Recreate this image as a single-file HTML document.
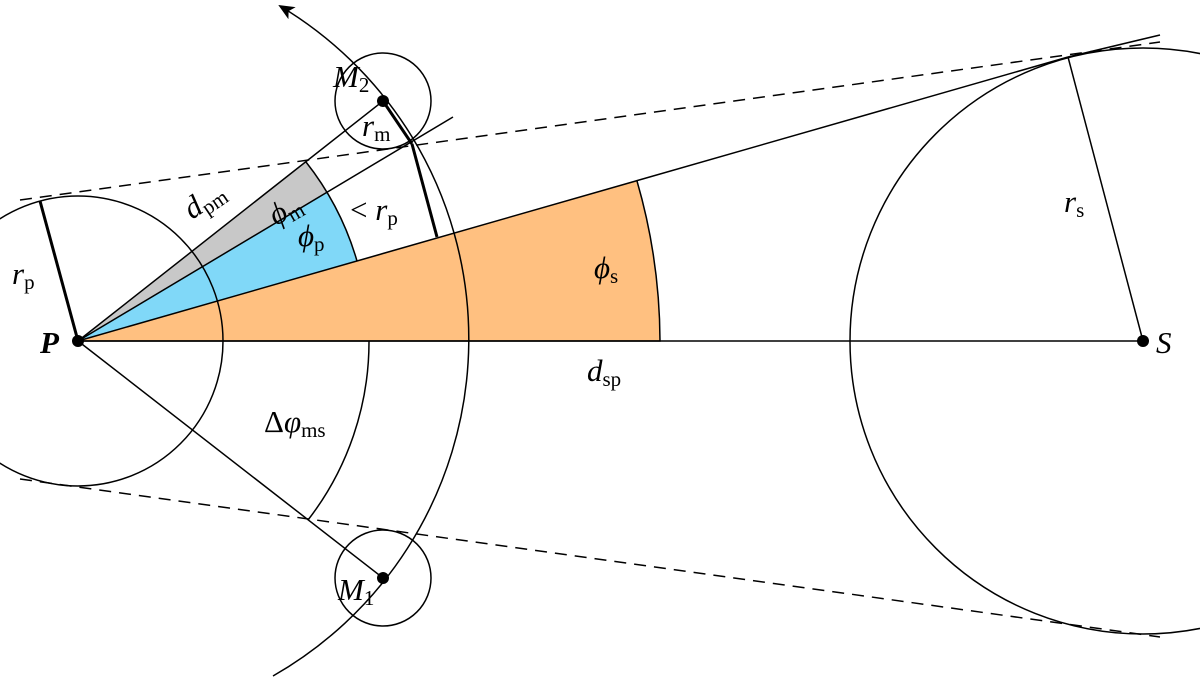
<!DOCTYPE html>
<html><head><meta charset="utf-8"><style>
html,body{margin:0;padding:0;background:#fff;}
svg text{font-family:"Liberation Serif",serif;fill:#000;}
.it{font-style:italic;}
</style></head><body>
<svg width="1200" height="682" viewBox="0 0 1200 682" xmlns="http://www.w3.org/2000/svg">
<defs>
<marker id="ar" markerWidth="16" markerHeight="14" refX="14" refY="7" orient="auto" markerUnits="userSpaceOnUse">
<path d="M0,0 L16,7 L0,14 L4,7 z" fill="#000"/>
</marker>
</defs>
<path d="M78,341 L660,341 A582,582 0 0 0 637,181 Z" fill="#ffc080"/>
<path d="M78,341 L357,261 A290,290 0 0 0 327,192 Z" fill="#80d8f8"/>
<path d="M78,341 L327,192 A290,290 0 0 0 306,162 Z" fill="#c8c8c8"/>
<g fill="none" stroke="#000" stroke-width="1.5">
<path d="M78,341 L660,341 A582,582 0 0 0 637,181"/>
<path d="M357,261 A290,290 0 0 0 306,162"/>
<circle cx="78" cy="341" r="145"/>
<circle cx="1143" cy="341" r="293"/>
<circle cx="383" cy="101" r="48"/>
<circle cx="383" cy="578" r="48"/>
<path d="M273,676 A388,388 0 0 0 280,6" marker-end="url(#ar)"/>
<path d="M369,341 A291,291 0 0 1 308,520"/>
<line x1="78" y1="341" x2="1143" y2="341"/>
<line x1="78" y1="341" x2="1068" y2="57"/>
<line x1="78" y1="341" x2="383" y2="101"/>
<line x1="78" y1="341" x2="453" y2="117"/>
<line x1="78" y1="341" x2="383" y2="578"/>
<line x1="1068" y1="57" x2="1143" y2="341"/>
<line x1="1068" y1="57" x2="1160" y2="35"/>
<line x1="20" y1="200" x2="1160" y2="42" stroke-dasharray="12,8"/>
<line x1="20" y1="479" x2="1160" y2="637" stroke-dasharray="12,8"/>
</g>
<g stroke="#000" stroke-width="3" fill="none">
<line x1="40" y1="201" x2="78" y2="341"/>
<line x1="383" y1="101" x2="412" y2="144"/>
<line x1="412" y1="144" x2="437" y2="237"/>
</g>
<g fill="#000">
<circle cx="78" cy="341" r="6"/>
<circle cx="1143" cy="341" r="6"/>
<circle cx="383" cy="101" r="6"/>
<circle cx="383" cy="578" r="6"/>
</g>
<g font-size="31">
<text x="40" y="353" class="it" font-weight="bold">P</text>
<text x="1156" y="353" class="it">S</text>
<text x="333" y="87" class="it">M<tspan font-size="21" font-style="normal" dy="5">2</tspan></text>
<text x="338" y="600" class="it">M<tspan font-size="21" font-style="normal" dy="5">1</tspan></text>
<text x="12" y="284" class="it">r<tspan font-size="21" font-style="normal" dy="5">p</tspan></text>
<text x="362" y="136" class="it">r<tspan font-size="21" font-style="normal" dy="5">m</tspan></text>
<text x="0" y="0" class="it" transform="translate(192,220) rotate(-34)">d<tspan font-size="21" font-style="normal" dy="5">pm</tspan></text>
<text x="0" y="0" class="it" transform="translate(276,226) rotate(-30)">ϕ<tspan font-size="21" font-style="normal" dy="5">m</tspan></text>
<text x="298" y="246" class="it">ϕ<tspan font-size="21" font-style="normal" dy="5">p</tspan></text>
<text x="350" y="220">&lt; <tspan class="it">r</tspan><tspan font-size="21" dy="5">p</tspan></text>
<text x="594" y="278" class="it">ϕ<tspan font-size="21" font-style="normal" dy="5">s</tspan></text>
<text x="1064" y="212" class="it">r<tspan font-size="21" font-style="normal" dy="5">s</tspan></text>
<text x="587" y="381" class="it">d<tspan font-size="21" font-style="normal" dy="5">sp</tspan></text>
<text x="264" y="432">Δ<tspan class="it">φ</tspan><tspan font-size="21" dy="5">ms</tspan></text>
</g>
</svg>
</body></html>
